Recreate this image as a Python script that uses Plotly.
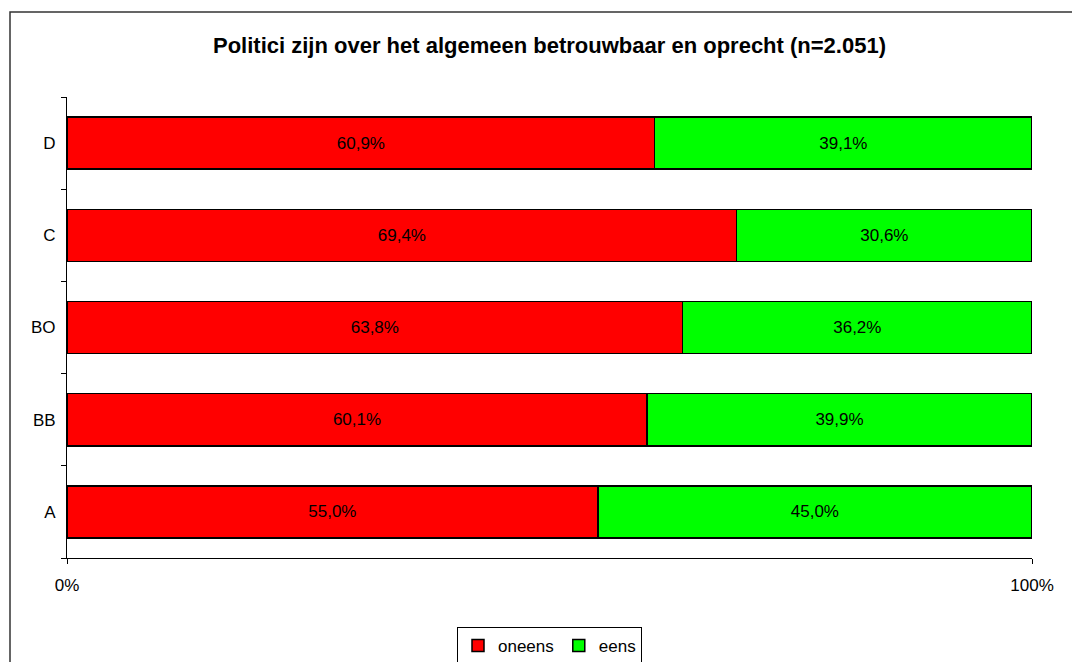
import plotly.graph_objects as go

categories = ["A", "BB", "BO", "C", "D"]
oneens = [55.0, 60.1, 63.8, 69.4, 60.9]
eens = [45.0, 39.9, 36.2, 30.6, 39.1]
x_ticks = [0, 100]
x_labels = ["0%", "100%"]


def pct(v):
    return f"{v:.1f}%".replace(".", ",")


fig = go.Figure()
fig.add_trace(go.Bar(
    y=categories, x=oneens, name="oneens", orientation="h",
    marker=dict(color="#FF0000", line=dict(color="black", width=1.5)),
    text=[pct(v) for v in oneens], textposition="inside",
    insidetextanchor="middle", textfont=dict(color="black", size=17),
))
fig.add_trace(go.Bar(
    y=categories, x=eens, name="eens", orientation="h",
    marker=dict(color="#00FF00", line=dict(color="black", width=1.5)),
    text=[pct(v) for v in eens], textposition="inside",
    insidetextanchor="middle", textfont=dict(color="black", size=17),
))

fig.update_layout(
    barmode="stack",
    bargap=0.435,
    width=1072, height=662,
    margin=dict(l=67, r=40, t=97, b=104),
    plot_bgcolor="white", paper_bgcolor="white",
    font=dict(family="Liberation Sans, Arial, sans-serif", size=17, color="black"),
    title=dict(
        text="<b>Politici zijn over het algemeen betrouwbaar en oprecht (n=2.051)</b>",
        x=0.5, xref="paper", xanchor="center",
        y=1 - 45 / 662, yanchor="middle",
        font=dict(size=22),
    ),
    xaxis=dict(
        range=[0, 100], tickvals=x_ticks, ticktext=x_labels,
        showgrid=False, zeroline=False, showline=True, linecolor="black",
        linewidth=1, ticks="outside", ticklen=5, tickcolor="black",
        ticklabelstandoff=7,
    ),
    yaxis=dict(
        type="category", showgrid=False, showline=True, linecolor="black",
        linewidth=1, ticks="outside", ticklen=5, tickcolor="black",
        tickson="boundaries", ticklabelstandoff=7,
    ),
    legend=dict(
        orientation="h", x=0.5, xanchor="center",
        yref="container", y=1 - 627 / 662, yanchor="top",
        bordercolor="black", borderwidth=1,
        font=dict(size=17), traceorder="normal",
        itemwidth=30,
    ),
    shapes=[
        dict(type="rect", xref="paper", yref="paper",
             x0=(10 - 67) / 965, x1=1.2, y0=-0.5, y1=(558 - 12) / 461,
             line=dict(color="#333333", width=1.5), layer="below"),
    ],
)

fig.write_html("out.html", config={"displayModeBar": False},
               post_script="document.body.style.margin='0';")
